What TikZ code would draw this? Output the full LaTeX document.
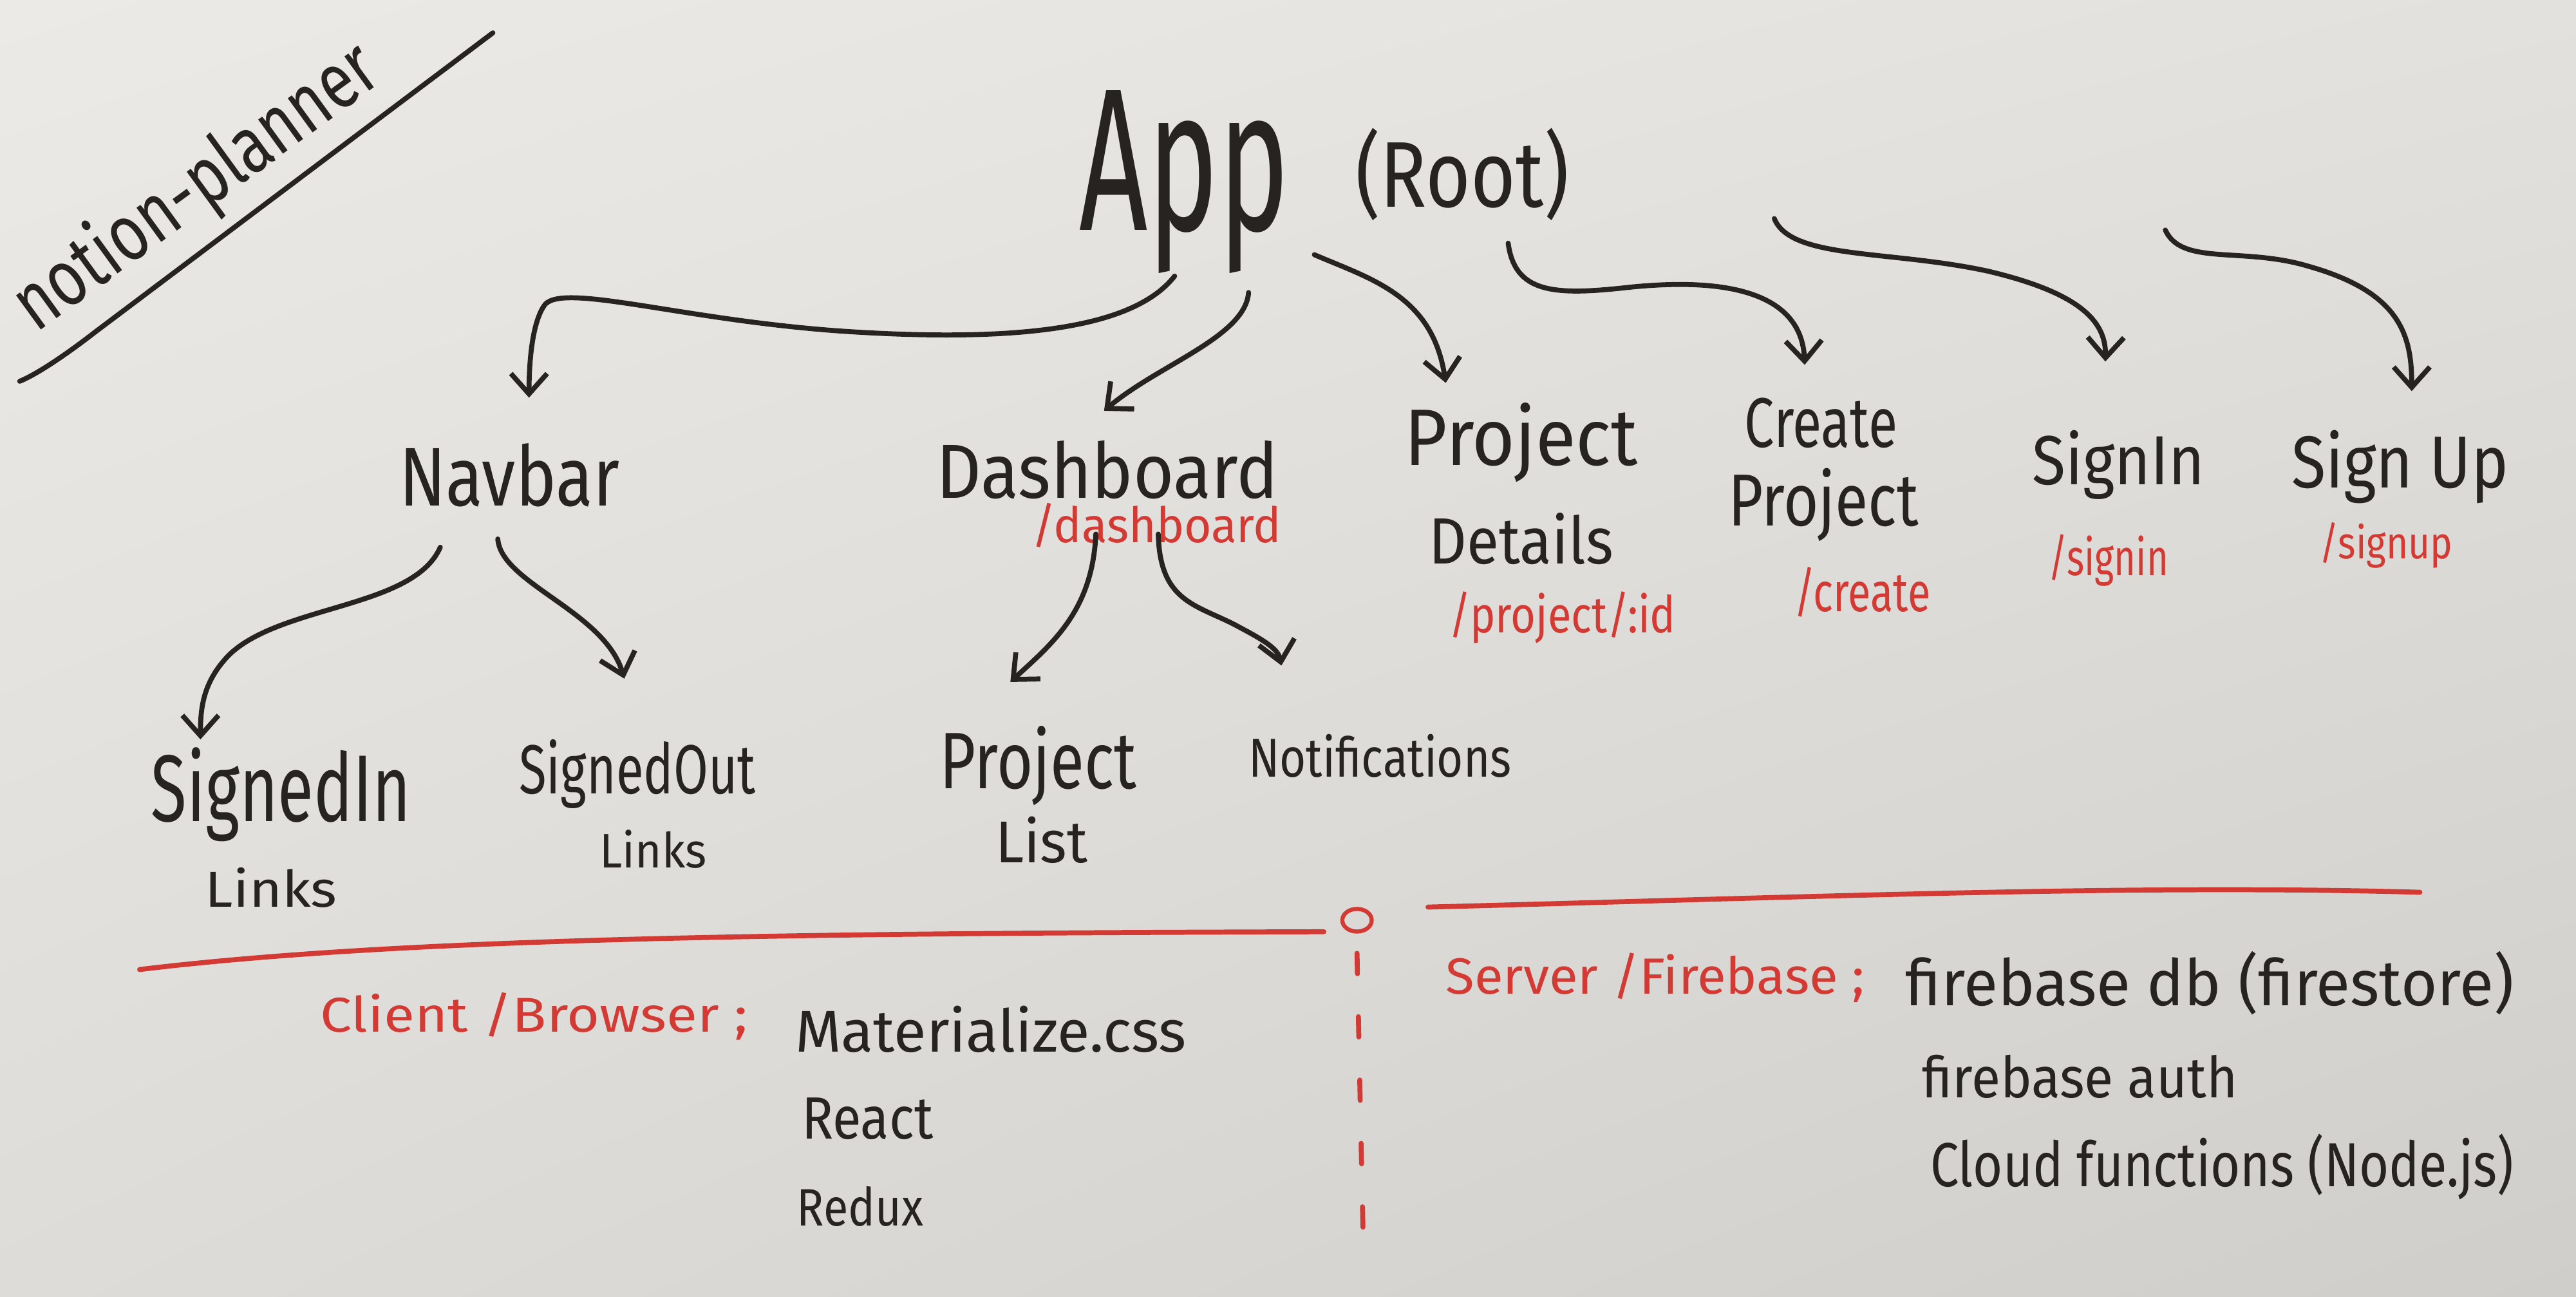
\documentclass[tikz,border=0pt]{standalone}
\usepackage{fontspec}
\setmainfont{Fira Sans}
\usepackage{graphicx}
\usetikzlibrary{arrows.meta,shapes.geometric,shadings}
\definecolor{ink}{RGB}{38,35,33}
\definecolor{redink}{RGB}{212,58,52}
\definecolor{bgA}{RGB}{236,234,231}
\definecolor{bgB}{RGB}{227,225,222}
\definecolor{bgC}{RGB}{222,220,217}
\definecolor{bgD}{RGB}{208,206,203}
\newlength{\un}\setlength{\un}{0.02552cm}
\newcommand{\hw}[3]{\resizebox{#1\un}{#2\un}{#3}}
\tikzset{
  lbl/.style={inner sep=0pt, outer sep=0pt, anchor=base west, text=ink},
  rlbl/.style={lbl, text=redink},
  arr/.style={draw=ink, line width=2.2pt, line cap=round, line join=round,
              -{Straight Barb[length=9pt,width=16pt]}},
  redline/.style={draw=redink, line width=2.2pt, line cap=round},
  inkline/.style={draw=ink, line width=2.2pt, line cap=round},
}
\begin{document}
\begin{tikzpicture}[x=0.02552cm, y=-0.02552cm]
\shade[upper left=bgA, upper right=bgB, lower left=bgC, lower right=bgD] (0,0) rectangle (1568,789);
\useasboundingbox (0,0) rectangle (1568,789);

% title
\node[lbl, rotate=36] (title) at (22,203) {\hw{262}{38}{notion-planner}};
\draw[inkline] (12,232) .. controls (22,228) and (40,216) .. (58,202) -- (300,20);

% top level
\node[lbl] (app) at (657,140) {\hw{128}{85}{App}};
\node[lbl] (root) at (825,126) {\hw{130}{48}{(Root)}};

% second level
\node[lbl] (navbar) at (243,308) {\hw{134}{38}{Navbar}};
\node[lbl] (dash) at (570,303) {\hw{208}{35}{Dashboard}};
\node[rlbl] (dashR) at (628,330) {\hw{152}{24}{/dashboard}};
\node[lbl] (pd1) at (855,283) {\hw{142}{38}{Project}};
\node[lbl] (pd2) at (870,343) {\hw{112}{31}{Details}};
\node[rlbl] (pdR) at (882,385) {\hw{138}{25}{/project/:id}};
\node[lbl] (cp1) at (1062,272) {\hw{93}{30}{Create}};
\node[lbl] (cp2) at (1052,320) {\hw{116}{35}{Project}};
\node[rlbl] (cpR) at (1092,372) {\hw{83}{27}{/create}};
\node[lbl] (si) at (1237,295) {\hw{105}{33}{SignIn}};
\node[rlbl] (siR) at (1247,350) {\hw{73}{25}{/signin}};
\node[lbl] (su) at (1395,297) {\hw{132}{35}{Sign Up}};
\node[rlbl] (suR) at (1412,340) {\hw{81}{22}{/signup}};

% third level
\node[lbl] (sdi1) at (92,500) {\hw{158}{45}{SignedIn}};
\node[lbl] (sdi2) at (125,552) {\hw{80}{24}{Links}};
\node[lbl] (sdo1) at (316,483) {\hw{144}{33}{SignedOut}};
\node[lbl] (sdo2) at (365,528) {\hw{65}{23}{Links}};
\node[lbl] (pl1) at (572,480) {\hw{120}{38}{Project}};
\node[lbl] (pl2) at (606,525) {\hw{56}{28}{List}};
\node[lbl] (notif) at (760,473) {\hw{160}{26}{Notifications}};

% free starts
\coordinate (siStart) at (1080,133);
\coordinate (suStart) at (1318,140);

% connectors
\draw[arr] ([shift={(-6,28)}]app.base) .. controls (690,200) and (620,208) .. (520,202)
   .. controls (420,196) and (345,172) .. (332,185)
   .. controls (324,195) and (322,220) .. ([shift={(12,-28)}]navbar.north);
\draw[arr] ([shift={(39,38)}]app.base) .. controls (758,205) and (705,222) .. ([shift={(-2,-18)}]dash.north);
\draw[arr] ([shift={(79,15)}]app.base) .. controls (835,170) and (872,180) .. ([shift={(-46,-12)}]pd1.north);
\draw[arr] ([shift={(28,22)}]root.base) .. controls (922,178) and (945,180) .. (990,175)
   .. controls (1065,167) and (1097,185) .. ([shift={(-10,-20)}]cp1.north);
\draw[arr] (siStart) .. controls (1090,158) and (1150,152) .. (1210,165)
   .. controls (1265,178) and (1282,195) .. ([shift={(-8,-42)}]si.north);
\draw[arr] (suStart) .. controls (1328,162) and (1365,150) .. (1405,162)
   .. controls (1462,178) and (1468,205) .. ([shift={(7,-24)}]su.north);
\draw[arr] ([shift={(-42,25)}]navbar.base) .. controls (252,370) and (172,368) .. (140,398)
   .. controls (123,415) and (122,432) .. ([shift={(-49,-5)}]sdi1.north);
\draw[arr] ([shift={(-7,20)}]navbar.base) .. controls (305,355) and (368,372) .. ([shift={(-8,-37)}]sdo1.north);
\draw[arr] ([shift={(-7,22)}]dash.base) .. controls (665,372) and (640,392) .. ([shift={(-17,-27)}]pl1.north);
\draw[arr] ([shift={(31,22)}]dash.base) .. controls (706,368) and (730,368) .. (755,382)
   .. controls (770,390) and (778,395) .. ([shift={(-60,-42)}]notif.north);

% divider
\node[ellipse, draw=redink, line width=1.8pt, minimum width=13pt, minimum height=10pt, inner sep=0pt] (sep) at (826,560) {};
\coordinate (dl) at (85,590);
\coordinate (dr) at (1473,543);
\coordinate (db) at (830,765);
\draw[redline] (dl) .. controls (250,570) and (500,568) .. ([shift={(-10,7)}]sep.west);
\draw[redline] ([shift={(33,-8)}]sep.east) .. controls (1100,546) and (1300,538) .. (dr);
\draw[redline, dash pattern=on 9pt off 19pt] ([shift={(0,12)}]sep.south) -- (db);

% bottom texts
\node[rlbl] (client) at (195,628) {\hw{260}{24}{Client /Browser ;}};
\node[lbl] (mat) at (484,640) {\hw{238}{28}{Materialize.css}};
\node[lbl] (react) at (488,693) {\hw{80}{25}{React}};
\node[lbl] (redux) at (485,746) {\hw{77}{24}{Redux}};
\node[rlbl] (server) at (880,605) {\hw{255}{25}{Server /Firebase ;}};
\node[lbl] (fdb) at (1160,612) {\hw{370}{33}{firebase db (firestore)}};
\node[lbl] (fauth) at (1170,668) {\hw{192}{26}{firebase auth}};
\node[lbl] (cloud) at (1175,722) {\hw{355}{32}{Cloud functions (Node.js)}};
\end{tikzpicture}
\end{document}
